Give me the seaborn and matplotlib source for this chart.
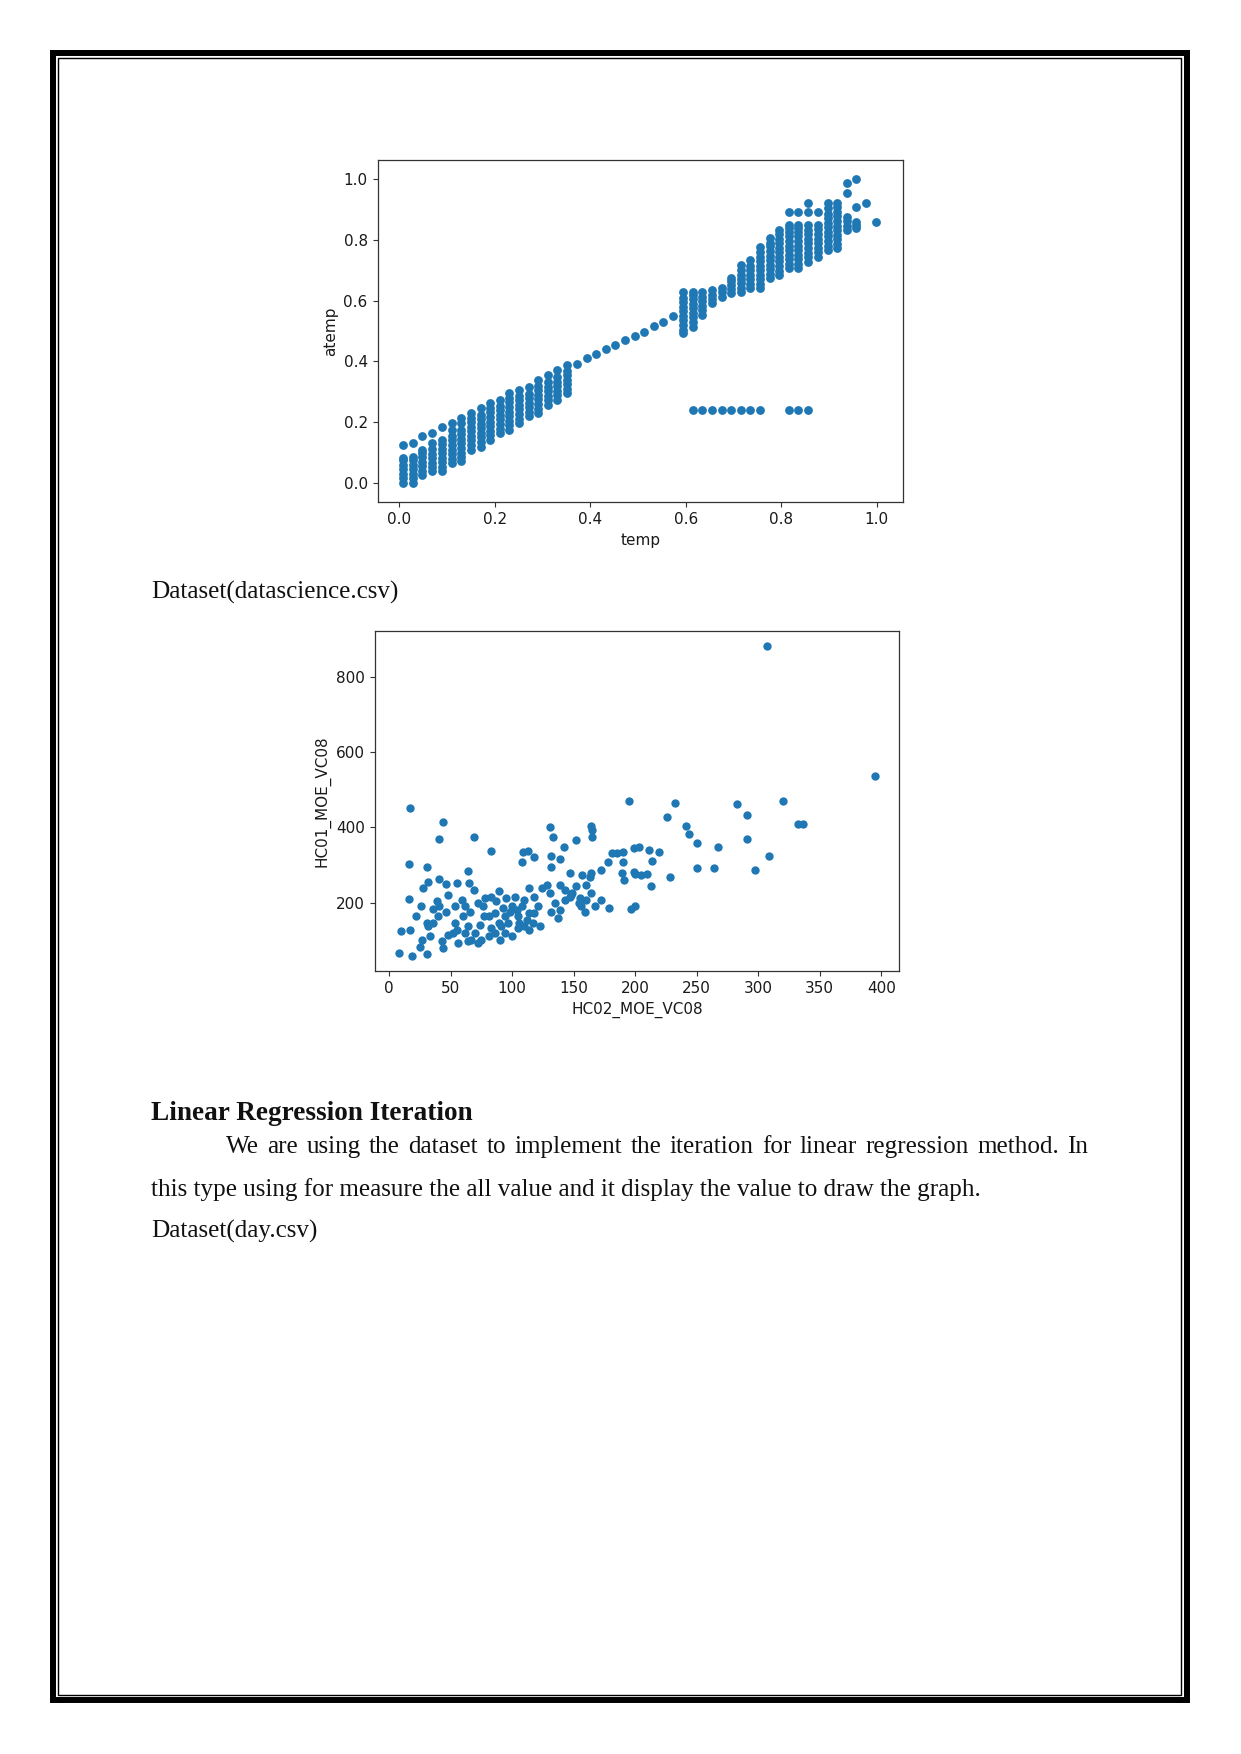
import matplotlib
matplotlib.use("Agg")
import matplotlib.pyplot as plt
from matplotlib.patches import Rectangle
import numpy as np
import pandas as pd
import seaborn as sns

sns.set_style("ticks")
plt.rcParams['font.family'] = ['DejaVu Sans']
plt.rcParams['axes.edgecolor'] = '#333333'
plt.rcParams['axes.linewidth'] = 0.9
plt.rcParams['xtick.color'] = '#333333'
plt.rcParams['ytick.color'] = '#333333'
plt.rcParams['xtick.labelcolor'] = '#1a1a1a'
plt.rcParams['ytick.labelcolor'] = '#1a1a1a'

# day.csv : temp is quantised into columns, each column holds several atemp values
temp_cols = [0.008, 0.028, 0.048, 0.069, 0.089, 0.109, 0.129, 0.149, 0.170, 0.190,
             0.210, 0.230, 0.250, 0.271, 0.291, 0.311, 0.331, 0.351, 0.372, 0.392,
             0.412, 0.432, 0.452, 0.473, 0.493, 0.513, 0.533, 0.553, 0.574, 0.594,
             0.614, 0.634, 0.654, 0.675, 0.695, 0.715, 0.735, 0.755, 0.776, 0.796,
             0.816, 0.836, 0.856, 0.877, 0.897, 0.917, 0.937, 0.957, 0.978, 0.998]
atemp_cols = [
    [0.0, 0.015, 0.03, 0.045, 0.06, 0.075, 0.082, 0.124],
    [0.0, 0.016, 0.03, 0.045, 0.06, 0.075, 0.087, 0.133],
    [0.027, 0.04, 0.055, 0.07, 0.085, 0.1, 0.11, 0.153],
    [0.038, 0.052, 0.067, 0.082, 0.097, 0.112, 0.13, 0.164],
    [0.038, 0.053, 0.068, 0.083, 0.098, 0.113, 0.128, 0.142, 0.184],
    [0.066, 0.08, 0.095, 0.11, 0.125, 0.14, 0.155, 0.175, 0.197],
    [0.071, 0.086, 0.1, 0.115, 0.13, 0.145, 0.16, 0.175, 0.197, 0.213],
    [0.11, 0.125, 0.14, 0.155, 0.17, 0.185, 0.2, 0.215, 0.23],
    [0.12, 0.135, 0.15, 0.165, 0.18, 0.195, 0.21, 0.225, 0.246],
    [0.142, 0.157, 0.172, 0.187, 0.202, 0.217, 0.232, 0.247, 0.262],
    [0.164, 0.179, 0.194, 0.209, 0.224, 0.239, 0.254, 0.273],
    [0.175, 0.19, 0.205, 0.22, 0.235, 0.25, 0.265, 0.28, 0.295],
    [0.197, 0.212, 0.227, 0.242, 0.257, 0.272, 0.287, 0.306],
    [0.219, 0.234, 0.249, 0.264, 0.279, 0.294, 0.317],
    [0.23, 0.245, 0.26, 0.275, 0.29, 0.305, 0.32, 0.339],
    [0.257, 0.272, 0.287, 0.302, 0.317, 0.332, 0.355],
    [0.273, 0.288, 0.303, 0.318, 0.333, 0.348, 0.372],
    [0.295, 0.31, 0.325, 0.34, 0.355, 0.37, 0.388],
    [0.393], [0.41], [0.425], [0.44], [0.455], [0.469], [0.483], [0.498],
    [0.515], [0.531], [0.55],
    [0.492, 0.503, 0.52, 0.535, 0.55, 0.565, 0.58, 0.595, 0.61, 0.629],
    [0.514, 0.53, 0.545, 0.56, 0.575, 0.59, 0.605, 0.62, 0.629],
    [0.553, 0.568, 0.583, 0.598, 0.613, 0.629],
    [0.591, 0.605, 0.62, 0.635],
    [0.613, 0.627, 0.64],
    [0.624, 0.638, 0.652, 0.666, 0.673],
    [0.629, 0.643, 0.657, 0.671, 0.685, 0.7, 0.717],
    [0.64, 0.655, 0.67, 0.685, 0.7, 0.715, 0.733],
    [0.64, 0.655, 0.67, 0.685, 0.7, 0.715, 0.73, 0.745, 0.76, 0.777],
    [0.673, 0.688, 0.703, 0.718, 0.733, 0.748, 0.763, 0.778, 0.79, 0.805],
    [0.684, 0.699, 0.714, 0.729, 0.744, 0.759, 0.774, 0.789, 0.804, 0.818, 0.832],
    [0.706, 0.721, 0.736, 0.751, 0.766, 0.781, 0.796, 0.811, 0.826, 0.84, 0.849, 0.892],
    [0.706, 0.721, 0.736, 0.751, 0.766, 0.781, 0.796, 0.811, 0.826, 0.84, 0.849, 0.892],
    [0.728, 0.743, 0.758, 0.773, 0.788, 0.803, 0.818, 0.833, 0.849, 0.892, 0.922],
    [0.744, 0.759, 0.774, 0.789, 0.804, 0.819, 0.834, 0.849, 0.892],
    [0.766, 0.781, 0.796, 0.811, 0.826, 0.841, 0.856, 0.871, 0.886, 0.903, 0.922],
    [0.772, 0.787, 0.802, 0.817, 0.832, 0.847, 0.862, 0.877, 0.892, 0.907, 0.922],
    [0.832, 0.847, 0.862, 0.876, 0.953, 0.986],
    [0.838, 0.85, 0.86, 0.909, 1.0],
    [0.922],
    [0.86],
]
# the flat row of odd atemp readings
odd_temp = [0.614, 0.634, 0.654, 0.675, 0.695, 0.715, 0.735, 0.755, 0.816, 0.836, 0.856]
odd_atemp = [0.241, 0.241, 0.241, 0.241, 0.241, 0.241, 0.241, 0.241, 0.241, 0.241, 0.241]

# datascience.csv
hc02 = [17, 44, 41, 69, 83, 16, 31, 64, 65, 69,
        55, 41, 46, 32, 28, 48, 16, 26, 39, 36,
        41, 22, 31, 32, 10, 17, 27, 33, 25, 8,
        19, 31, 44, 54, 54, 52, 56, 60, 62, 64,
        64, 70, 72, 76, 77, 74, 83, 89, 81, 86,
        91, 94, 95, 100, 102, 100, 97, 105, 108, 110,
        112, 114, 109, 108, 113, 118, 114, 118, 121, 117,
        123, 124, 128, 131, 133, 132, 139, 132, 142, 152,
        164, 165, 165, 131, 135, 132, 139, 137, 139, 143,
        147, 148, 152, 154, 156, 157, 160, 164, 160, 164,
        163, 172, 172, 179, 178, 181, 185, 190, 190, 189,
        191, 195, 199, 203, 200, 205, 211, 213, 214, 197,
        200, 143, 147, 149, 110, 105, 89, 83, 75, 67,
        62, 55, 48, 43, 36, 40, 46, 59, 66, 72,
        98, 104, 106, 93, 86, 114, 118, 94, 90, 81, 78, 87, 167, 159, 155,
        307, 395, 232, 226, 241, 244, 250, 250, 267, 264, 283,
        291, 291, 297, 309, 320, 332, 336, 228, 219, 199, 210]
hc01 = [453, 415, 369, 374, 338, 303, 296, 284, 253, 234,
        253, 263, 249, 254, 240, 221, 209, 192, 203, 183,
        190, 163, 145, 137, 125, 128, 101, 110, 83, 67,
        59, 64, 79, 190, 145, 119, 92, 163, 192, 137,
        97, 119, 92, 190, 163, 141, 216, 230, 110, 119,
        137, 163, 212, 190, 216, 110, 145, 163, 190, 207,
        154, 172, 336, 309, 338, 321, 238, 216, 190, 145,
        137, 238, 247, 402, 374, 324, 315, 296, 349, 367,
        405, 393, 374, 225, 198, 176, 181, 159, 247, 234,
        278, 221, 243, 198, 190, 274, 247, 278, 207, 225,
        269, 207, 287, 185, 309, 331, 333, 336, 309, 278,
        260, 470, 345, 349, 276, 274, 340, 245, 312, 183,
        191, 207, 216, 225, 137, 132, 145, 132, 101, 101,
        119, 128, 114, 97, 145, 163, 176, 207, 176, 198,
        176, 181, 145, 185, 172, 128, 172, 119, 101, 163, 212, 203, 190, 176, 212,
        882, 537, 466, 429, 404, 383, 358, 291, 349, 291, 462,
        433, 370, 287, 324, 471, 409, 409, 267, 334, 281, 276]

caption1 = "Dataset(datascience.csv)"
heading = "Linear Regression Iteration"
para_line1 = "We are using the dataset to implement the iteration for linear regression method. In"
para_line2 = "this type using for measure the all value and it display the value to draw the graph."
caption2 = "Dataset(day.csv)"

day = pd.DataFrame({
    'temp': [t for t, ys in zip(temp_cols, atemp_cols) for _ in ys] + odd_temp,
    'atemp': [y for ys in atemp_cols for y in ys] + odd_atemp,
})
ds = pd.DataFrame({'HC02_MOE_VC08': hc02, 'HC01_MOE_VC08': hc01})

W, H = 1241, 1754
fig = plt.figure(figsize=(W / 100, H / 100), dpi=100)

# page layer in pixel coordinates
bg = fig.add_axes([0, 0, 1, 1])
bg.set_xlim(0, W)
bg.set_ylim(H, 0)
bg.axis('off')
bg.add_patch(Rectangle((53, 53), 1134, 1647.3, fill=False, lw=4.3, ec='black'))
bg.add_patch(Rectangle((58, 58), 1123.3, 1637, fill=False, lw=1.0, ec='black'))

serif = 'Liberation Serif'
fs = 18.1
fs_bold = 19.6
txt = '#111111'
bg.text(151, 599, caption1, family=serif, fontsize=fs, va='baseline', color=txt)
bg.text(151, 1120, heading, family=serif, fontsize=fs_bold, fontweight='bold', va='baseline', color=txt)
bg.text(151, 1196, para_line2, family=serif, fontsize=fs, va='baseline', color=txt)
bg.text(151, 1238, caption2, family=serif, fontsize=fs, va='baseline', color=txt)

# justified first line
words = para_line1.split()
arts = [bg.text(0, 1153, w, family=serif, fontsize=fs, va='baseline', color=txt) for w in words]
r = fig.canvas.get_renderer()
widths = [a.get_window_extent(r).width for a in arts]
x0, x1 = 226, 1088
gap = (x1 - x0 - sum(widths)) / (len(words) - 1)
xpos = x0
for a, w in zip(arts, widths):
    a.set_x(xpos)
    xpos += w + gap

blue = '#1f77b4'
lab = dict(fontsize=11, color='#1a1a1a')

ax1 = fig.add_axes([378 / W, 1 - 502 / H, 525 / W, 342 / H])
sns.scatterplot(data=day, x='temp', y='atemp', ax=ax1, color=blue, s=40, linewidth=0)
ax1.set_xlim(-0.045, 1.055)
ax1.set_ylim(-0.0625, 1.0625)
ax1.set_xticks([0.0, 0.2, 0.4, 0.6, 0.8, 1.0])
ax1.set_yticks([0.0, 0.2, 0.4, 0.6, 0.8, 1.0])
ax1.set_xlabel('temp', **lab)
ax1.set_ylabel('atemp', **lab)

ax2 = fig.add_axes([375 / W, 1 - 971 / H, 524 / W, 340 / H])
sns.scatterplot(data=ds, x='HC02_MOE_VC08', y='HC01_MOE_VC08', ax=ax2, color=blue, s=36, linewidth=0)
ax2.set_xticks([0, 50, 100, 150, 200, 250, 300, 350, 400])
ax2.set_yticks([200, 400, 600, 800])
ax2.set_xlabel('HC02_MOE_VC08', **lab)
ax2.set_ylabel('HC01_MOE_VC08', **lab)

for ax in (ax1, ax2):
    ax.tick_params(labelsize=11, length=3.7, width=0.8, pad=3.7)
    for sp in ax.spines.values():
        sp.set_visible(True)

fig.savefig('out.png', dpi=100)
